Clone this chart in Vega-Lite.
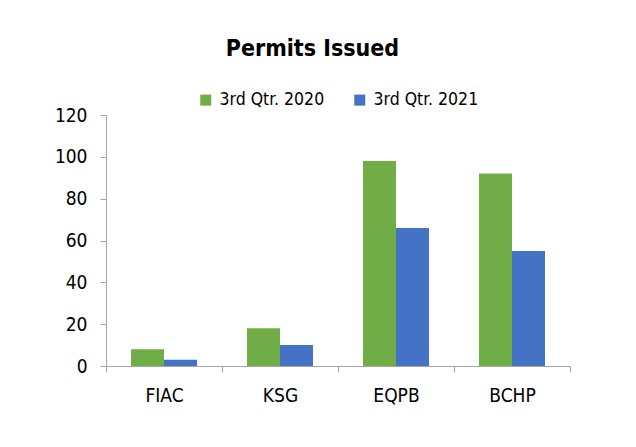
{
  "$schema": "https://vega.github.io/schema/vega-lite/v6.json",
  "autosize": "none",
  "padding": {"left": 106, "top": 115, "right": 66, "bottom": 81},
  "width": 464,
  "height": 251,
  "background": "white",
  "title": {
    "text": "Permits Issued",
    "font": "DejaVu Sans Condensed",
    "fontSize": 23,
    "fontWeight": "bold",
    "color": "#000000",
    "anchor": "middle",
    "frame": "bounds",
    "offset": 30
  },
  "data": {
    "values": [
      {"agency": "FIAC", "quarter": "3rd Qtr. 2020", "permits": 8},
      {"agency": "FIAC", "quarter": "3rd Qtr. 2021", "permits": 3},
      {"agency": "KSG", "quarter": "3rd Qtr. 2020", "permits": 18},
      {"agency": "KSG", "quarter": "3rd Qtr. 2021", "permits": 10},
      {"agency": "EQPB", "quarter": "3rd Qtr. 2020", "permits": 98},
      {"agency": "EQPB", "quarter": "3rd Qtr. 2021", "permits": 66},
      {"agency": "BCHP", "quarter": "3rd Qtr. 2020", "permits": 92},
      {"agency": "BCHP", "quarter": "3rd Qtr. 2021", "permits": 55}
    ]
  },
  "mark": {"type": "bar"},
  "encoding": {
    "x": {
      "field": "agency",
      "type": "nominal",
      "sort": ["FIAC", "KSG", "EQPB", "BCHP"],
      "scale": {"paddingInner": 0, "paddingOuter": 0},
      "axis": {
        "title": null,
        "labelAngle": 0,
        "tickBand": "extent",
        "labelFont": "DejaVu Sans Condensed",
        "labelFontSize": 19,
        "labelColor": "#000000",
        "labelPadding": 14,
        "domainColor": "#A6A6A6",
        "tickColor": "#A6A6A6",
        "tickSize": 6
      }
    },
    "xOffset": {
      "field": "quarter",
      "type": "nominal",
      "scale": {"paddingInner": 0, "paddingOuter": 0.758}
    },
    "y": {
      "field": "permits",
      "type": "quantitative",
      "scale": {"domain": [0, 120], "nice": false},
      "axis": {
        "title": null,
        "values": [0, 20, 40, 60, 80, 100, 120],
        "grid": false,
        "labelFont": "DejaVu Sans Condensed",
        "labelFontSize": 19,
        "labelColor": "#000000",
        "labelPadding": 13,
        "domainColor": "#A6A6A6",
        "tickColor": "#A6A6A6",
        "tickSize": 6
      }
    },
    "color": {
      "field": "quarter",
      "type": "nominal",
      "scale": {"domain": ["3rd Qtr. 2020", "3rd Qtr. 2021"], "range": ["#70AD47", "#4472C4"]},
      "legend": {
        "title": null,
        "orient": "top",
        "direction": "horizontal",
        "symbolType": "square",
        "symbolSize": 121,
        "symbolStrokeWidth": 0,
        "symbolOpacity": 1,
        "labelFont": "DejaVu Sans Condensed",
        "labelFontSize": 17.5,
        "labelColor": "#000000",
        "columnPadding": 26,
        "labelOffset": 5,
        "offset": 6
      }
    }
  },
  "config": {
    "view": {"stroke": null},
    "legend": {"layout": {"top": {"anchor": "middle"}}}
  }
}
